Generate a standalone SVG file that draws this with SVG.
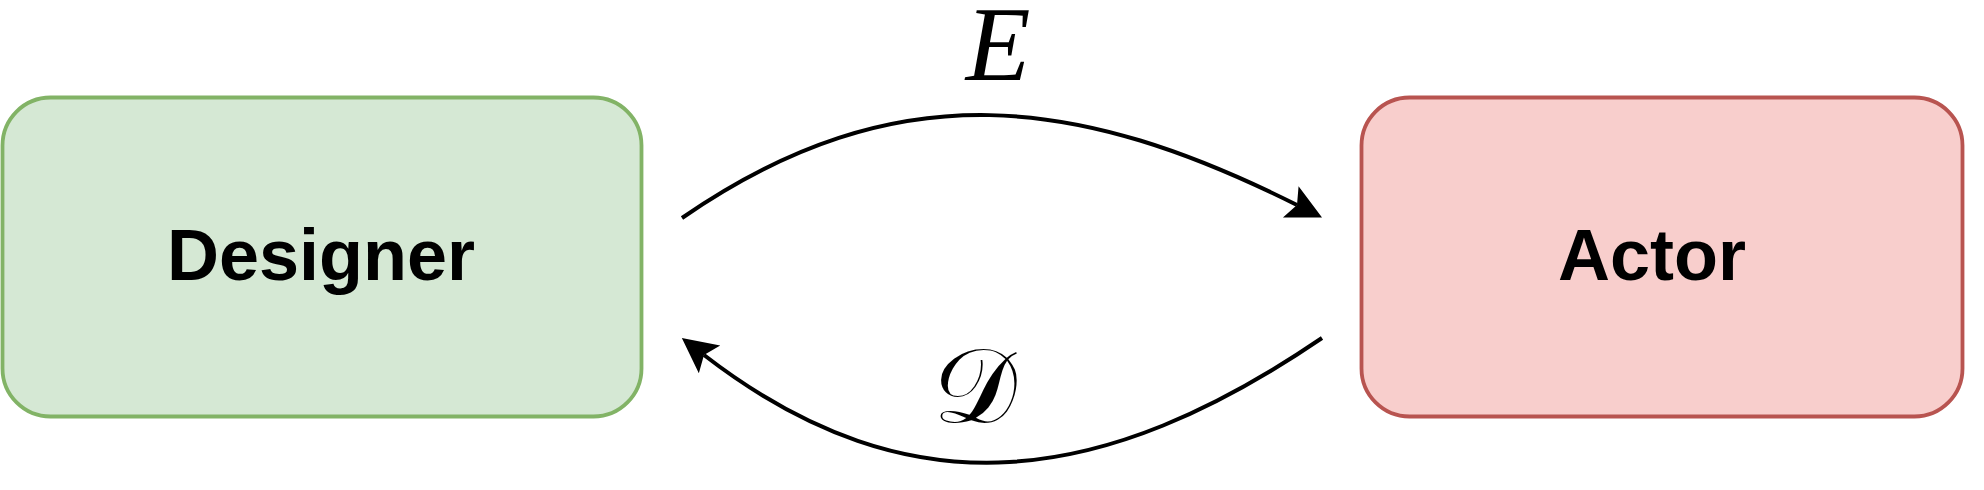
<svg xmlns="http://www.w3.org/2000/svg" width="1984" height="490" viewBox="0 0 1984 490">
  <style>
    .box-label { font-family: "Liberation Sans", Arial, Helvetica, sans-serif; font-weight: bold; font-size: 72px; fill: #000000; text-anchor: middle; }
    .edge { fill: none; stroke: #000000; stroke-width: 4; }
    .math { font-family: "Liberation Serif", "Times New Roman", serif; font-style: italic; fill: #000000; text-anchor: middle; }
    .script { font-family: "DejaVu Serif", "DejaVu Sans", "Noto Sans", serif; fill: #000000; text-anchor: middle; }
  </style>
  <defs>
    <marker id="arrow" markerUnits="userSpaceOnUse" viewBox="-10 -20 42 40" markerWidth="42" markerHeight="40" refX="0" refY="0" orient="auto">
      <path d="M 28 0 L -7 -17.5 L 0 0 L -7 17.5 Z" fill="#000000"/>
    </marker>
  </defs>
  <rect width="1984" height="490" fill="#ffffff"/>

  <g id="designer">
    <rect x="2.5" y="97.5" width="639" height="319" rx="48" ry="48" fill="#d5e8d4" stroke="#82b366" stroke-width="3.8"/>
    <text class="box-label" x="321" y="280">Designer</text>
  </g>

  <g id="actor">
    <rect x="1361.5" y="97.5" width="601" height="319" rx="48" ry="48" fill="#f8cecc" stroke="#b85450" stroke-width="3.8"/>
    <text class="box-label" x="1652" y="280">Actor</text>
  </g>

  <g id="connectors">
    <g id="edge-E">
      <path class="edge" d="M 682 218 C 898 69 1081 97 1297 205" marker-end="url(#arrow)"/>
      <text class="math" x="998" y="80" font-size="106">E</text>
    </g>
    <g id="edge-D">
      <path class="edge" d="M 1322 338 C 1105 485.6 911.7 515.4 704 355" marker-end="url(#arrow)"/>
      <text class="script" x="975" y="422" font-size="105">𝒟</text>
    </g>
  </g>
</svg>
